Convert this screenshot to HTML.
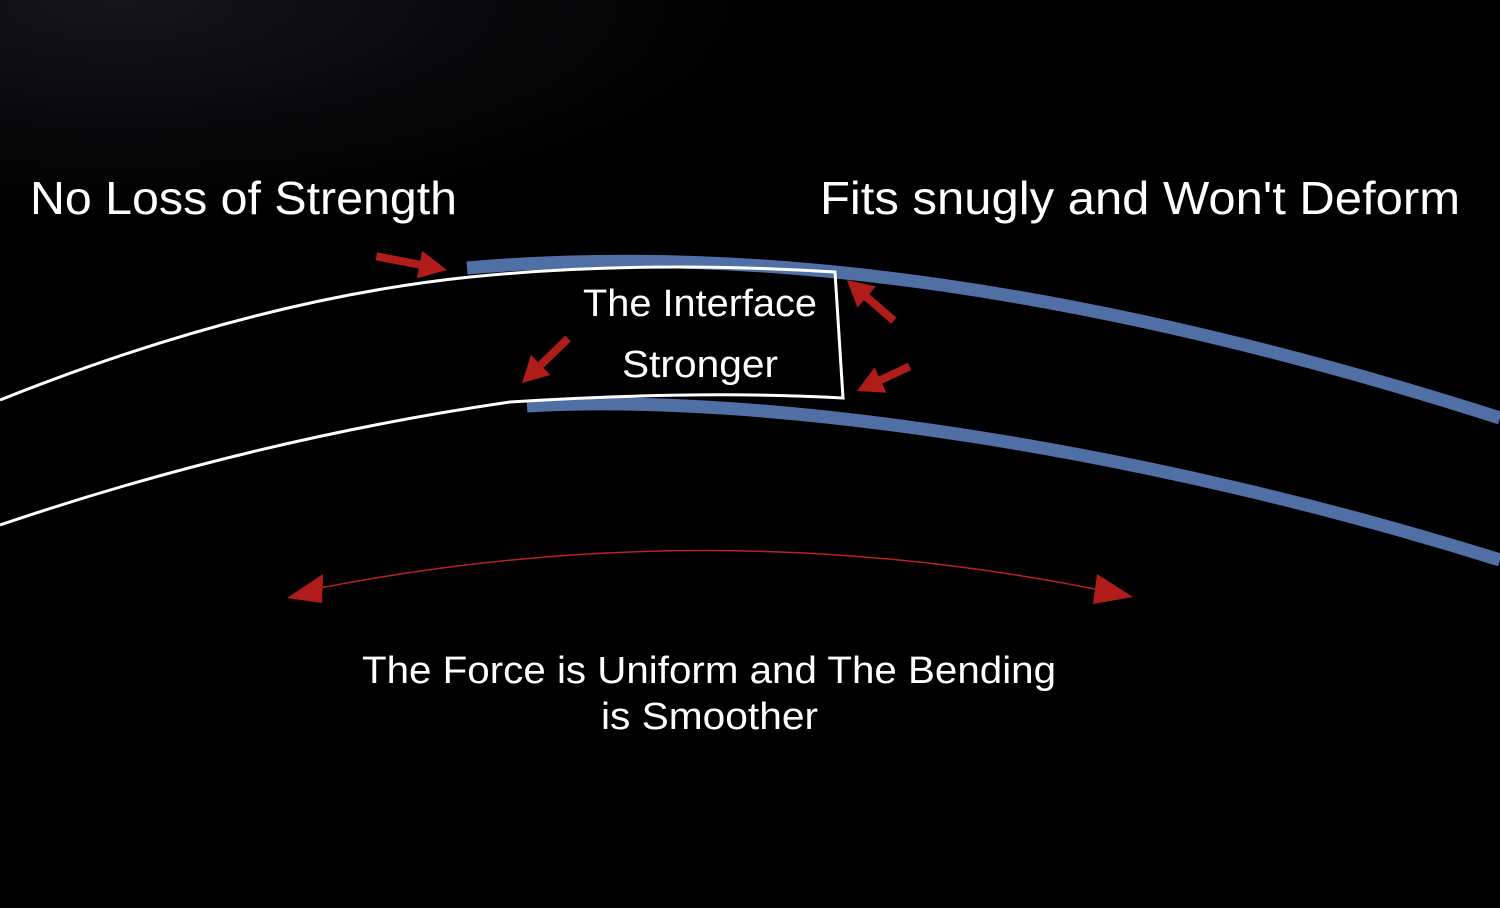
<!DOCTYPE html>
<html><head><style>
html,body{margin:0;padding:0;background:#000;}
body{width:1500px;height:908px;overflow:hidden;position:relative;background:radial-gradient(ellipse 650px 220px at 120px 0px,#161418 0%,#08080a 60%,#000 100%);}
svg{position:absolute;left:0;top:0}
text{font-family:"Liberation Sans",sans-serif;fill:#fff}
</style></head><body>
<svg width="1500" height="908" viewBox="0 0 1500 908">
<!-- blue bands -->
<path d="M467,268 C760,242 1100,290 1500,418" fill="none" stroke="#4f6fa5" stroke-width="13"/>
<path d="M527,406 C770,392 1150,450 1500,560" fill="none" stroke="#4f6fa5" stroke-width="13"/>
<!-- white outlines -->
<path d="M0,400 Q250,300 470,277 Q640,260 835,272 L843,398 Q700,390 510,402 Q250,440 0,525" fill="none" stroke="#fff" stroke-width="3"/>
<!-- red arc -->
<path d="M310,590 Q710,510 1110,592" fill="none" stroke="#b8231f" stroke-width="1.5"/>
<polygon points="287,598 323,574 322,603" fill="#b01c1a"/>
<polygon points="1133,597 1097,574 1093,604" fill="#b01c1a"/>
<!-- red arrows -->
<g fill="#b01c1a" stroke="none">
<g transform="translate(447,270) rotate(11)"><rect x="-72" y="-4" width="50" height="8"/><polygon points="0,0 -28,-14 -28,14"/></g>
<g transform="translate(847,280) rotate(221)"><rect x="-62" y="-4" width="42" height="8"/><polygon points="0,0 -26,-14 -26,14"/></g>
<g transform="translate(522,383) rotate(136)"><rect x="-64" y="-4" width="42" height="8"/><polygon points="0,0 -26,-14 -26,14"/></g>
<g transform="translate(857,391) rotate(155)"><rect x="-58" y="-4" width="38" height="8"/><polygon points="0,0 -26,-14 -26,14"/></g>
</g>
<text x="30" y="214" font-size="46" textLength="427" lengthAdjust="spacingAndGlyphs">No Loss of Strength</text>
<text x="820" y="214" font-size="46" textLength="640" lengthAdjust="spacingAndGlyphs">Fits snugly and Won't Deform</text>
<text x="583" y="316" font-size="38" textLength="234" lengthAdjust="spacingAndGlyphs">The Interface</text>
<text x="622" y="377" font-size="38" textLength="156" lengthAdjust="spacingAndGlyphs">Stronger</text>
<text x="362" y="683" font-size="38" textLength="694" lengthAdjust="spacingAndGlyphs">The Force is Uniform and The Bending</text>
<text x="601" y="729" font-size="38" textLength="217" lengthAdjust="spacingAndGlyphs">is Smoother</text>
</svg>
</body></html>
